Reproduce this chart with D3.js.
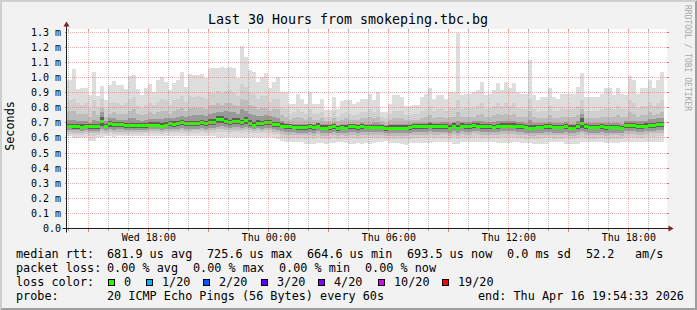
<!DOCTYPE html>
<html><head><meta charset="utf-8">
<script src="https://cdn.jsdelivr.net/npm/d3@7"></script>
<style>
html,body{margin:0;padding:0;background:#f2f2f2;}
svg{display:block;}
text{font-family:"DejaVu Sans Mono",monospace;white-space:pre;}
</style></head><body>
<svg id="c" width="697" height="310"></svg>
<script>
// ---------------- data (values in microseconds) ----------------
const titleText = "Last 30 Hours from smokeping.tbc.bg";
const yAxisTitle = "Seconds";
const watermark = "RRDTOOL / TOBI OETIKER";
const graphStart = new Date(2026,3,15,13,54,33);
const graphEnd   = new Date(2026,3,16,19,54,33);
const firstBin   = new Date(2026,3,15,13,48,0);
const binMinutes = 12;
const yTickValues = [100,200,300,400,500,600,700,800,900,1000,1100,1200,1300,0];
const yTickLabels = ["0.1 m","0.2 m","0.3 m","0.4 m","0.5 m","0.6 m","0.7 m","0.8 m","0.9 m","1.0 m","1.1 m","1.2 m","1.3 m","0.0"];
const yMaxValue = 1325;

const median = [
682,682,678,678,675,682,676,678,676,709, 682,696,691,691,691,687,685,685,685,685,
686,689,689,689,682,689,700,693,696,703, 696,696,698,698,707,696,707,706,726,726,
711,704,711,711,704,718,700,689,700,696, 703,703,691,691,682,676,676,674,672,671,
673,676,671,682,669,669,671,678,665,674, 669,676,676,671,676,674,674,674,674,674,
665,669,669,669,669,669,672,678,678,678, 678,682,676,676,680,680,669,682,669,682,
678,678,687,682,678,678,678,674,678,682, 682,682,682,678,678,674,669,669,674,674,
678,678,674,674,674,678,669,669,678,700, 678,674,674,674,678,671,674,674,674,667,
685,685,685,678,676,682,687,687,691,693];
const pingMax = [
983,983,1056,921,934,934,883,1038,879,943, 850,950,978,950,950,921,1009,1016,921,883,
928,956,905,983,1005,972,917,961,987,1038, 939,1023,1016,1016,1023,994,1060,1060,1060,1071,
1060,1071,1060,994,1208,1138,1049,1038,972,1005, 1027,934,972,1005,905,905,828,828,894,861,
828,905,828,828,857,784,784,868,795,844, 850,850,828,839,857,857,894,850,905,773,
773,828,883,883,872,810,810,817,817,872, 894,934,861,883,883,861,905,905,1296,883,
894,894,905,917,972,883,894,917,961,917, 972,928,961,905,894,894,1115,883,850,872,
872,934,872,861,894,890,894,894,939,1027, 872,868,868,868,894,928,928,883,934,894,
883,1009,983,894,934,928,987,928,983,1038];
const pingHi2 = [
840,850,860,830,820,830,800,850,800,860, 790,830,840,830,820,830,860,870,810,800,
820,830,820,840,860,850,820,850,860,880, 840,880,870,880,870,860,900,900,910,900,
910,920,900,880,960,940,900,890,860,880, 880,840,860,860,800,790,760,770,790,770,
760,790,760,760,770,740,740,780,740,760, 770,760,750,760,770,770,790,770,790,740,
730,760,780,780,780,750,750,760,760,780, 790,810,780,790,790,780,800,800,850,790,
800,800,800,810,830,790,800,810,830,810, 830,810,830,800,790,790,860,790,770,780,
780,810,780,780,790,790,790,790,810,850, 780,780,780,780,790,800,800,790,810,790,
790,850,830,800,810,810,840,810,830,850];
const pingHi3 = [
770,780,780,760,760,760,740,780,750,800, 740,760,770,760,760,760,780,790,760,750,
760,770,760,770,780,780,760,780,790,800, 780,800,800,800,800,790,820,820,830,820,
830,830,820,810,860,850,820,810,790,800, 800,780,790,790,750,740,720,730,740,730,
720,740,720,720,730,710,710,730,710,720, 730,720,720,720,730,730,740,730,740,710,
700,720,730,730,730,720,720,720,720,730, 740,750,730,740,740,730,740,740,770,740,
740,740,740,750,760,740,740,750,760,750, 760,750,760,740,740,740,780,740,730,730,
730,750,730,730,740,740,740,740,750,790, 730,730,730,730,740,740,740,740,750,740,
740,770,760,740,750,750,770,750,760,770];
const pingHi4 = [
720,720,720,710,710,715,700,720,710,770, 710,730,730,720,720,720,730,730,720,715,
720,725,725,725,725,730,735,730,740,745, 740,745,750,750,755,745,760,765,770,775,
780,775,770,760,790,780,760,750,745,745, 750,745,740,735,710,700,695,695,695,695,
690,695,690,700,690,690,690,700,685,695, 690,695,695,690,700,695,695,700,700,690,
685,690,690,690,690,690,695,700,700,700, 700,705,700,700,705,705,700,705,710,705,
705,705,710,710,710,705,705,705,710,710, 710,710,710,705,705,700,720,700,700,700,
700,705,700,700,700,705,695,695,710,760, 700,700,700,700,700,700,700,700,700,695,
710,715,715,710,710,715,725,725,730,730];
const pingHi5 = [
695,695,692,692,690,695,690,692,690,740, 695,710,705,705,705,700,700,700,700,700,
700,705,705,705,700,705,715,710,712,720, 712,712,715,715,722,712,725,725,745,745,
730,722,730,730,722,738,718,705,718,712, 720,720,708,708,698,690,690,688,686,685,
688,690,685,698,683,683,685,692,680,688, 683,690,690,685,690,688,688,688,688,688,
680,683,683,683,683,683,686,692,692,692, 692,696,690,690,694,694,683,696,685,696,
692,692,702,696,692,692,692,688,692,696, 696,696,696,692,692,688,685,683,688,688,
692,692,688,688,688,692,683,683,692,730, 692,688,688,688,692,685,688,688,688,681,
700,700,700,692,690,696,702,702,706,708];
const pingLo5 = [
665,665,662,662,660,665,660,662,660,680, 665,675,672,672,672,668,666,666,666,666,
668,670,670,670,665,670,680,675,678,683, 678,678,680,680,685,678,686,686,700,702,
690,686,690,690,686,695,682,672,682,678, 684,684,672,672,664,658,658,656,654,654,
655,658,653,664,652,652,653,660,648,656, 652,658,658,653,658,656,656,656,656,656,
648,652,652,652,652,652,654,660,660,660, 660,664,658,658,662,662,652,664,650,664,
660,660,668,664,660,660,660,656,660,664, 664,664,664,660,660,656,650,652,656,656,
660,660,656,656,656,660,652,652,660,665, 660,656,656,656,660,654,656,656,656,650,
666,666,666,660,658,664,668,668,672,674];
const pingLo4 = [
652,652,650,650,648,652,645,648,648,660, 652,658,655,656,656,654,652,652,652,652,
654,656,656,656,652,656,662,658,660,664, 660,660,662,662,666,660,666,666,675,676,
670,666,670,670,666,672,664,656,664,660, 665,665,656,655,645,640,640,638,636,636,
636,640,635,645,634,634,636,640,630,636, 634,640,640,635,640,638,638,638,638,638,
630,634,634,634,634,634,636,640,640,640, 640,645,640,640,642,642,634,645,632,645,
640,640,648,645,640,640,640,638,640,645, 645,645,645,640,640,636,632,634,636,636,
640,640,636,636,636,640,634,634,640,648, 640,636,636,636,640,635,636,636,636,632,
646,646,646,640,638,645,648,648,652,654];
const pingLo3 = [
640,640,636,636,634,640,630,634,634,645, 640,645,642,642,642,640,640,640,640,640,
642,644,644,644,640,644,648,645,646,650, 648,648,650,650,652,648,652,652,658,658,
655,652,655,655,652,656,650,644,650,648, 650,650,642,640,628,622,622,620,618,618,
618,622,616,626,616,616,618,622,612,618, 616,622,622,616,622,620,620,620,620,620,
612,616,616,616,616,616,618,622,622,622, 622,626,622,622,624,624,616,626,614,626,
622,622,630,626,622,622,622,620,622,626, 626,626,626,622,622,618,614,616,618,618,
622,622,618,618,618,622,616,616,622,630, 622,618,618,618,622,616,618,618,618,614,
628,628,628,622,620,626,630,630,634,636];
const pingLo2 = [
625,625,620,620,618,625,610,615,618,628, 628,630,628,628,628,628,626,628,628,628,
630,630,630,630,628,630,634,632,634,636, 634,634,636,636,638,634,636,636,640,640,
638,636,638,638,636,640,634,630,634,632, 634,634,628,624,608,600,600,598,598,598,
596,600,594,604,594,594,596,600,590,596, 594,600,600,594,600,598,598,598,600,600,
594,596,596,596,594,590,596,600,600,600, 600,604,600,600,602,602,596,604,594,604,
600,600,608,604,600,600,600,598,600,604, 604,604,604,600,600,596,592,594,596,596,
600,600,596,596,596,600,594,594,600,606, 600,596,596,596,600,594,596,596,596,592,
606,606,606,600,598,604,608,608,612,614];
const pingMin = [
612,612,600,600,604,606,579,579,603,605, 612,612,608,610,612,612,610,612,614,612,
614,612,612,612,614,612,612,612,614,612, 614,614,614,612,612,614,612,612,608,606,
606,604,606,606,606,606,606,606,604,604, 604,604,600,596,580,574,574,572,574,572,
563,563,563,566,568,563,566,568,574,570, 566,563,563,568,563,566,563,566,574,574,
580,566,566,566,560,551,566,566,566,566, 566,566,570,570,570,570,570,560,563,570,
570,572,570,574,574,574,574,570,566,566, 566,566,572,574,566,566,566,563,563,563,
563,572,572,572,572,563,563,563,563,574, 574,574,574,574,574,566,566,566,566,574,
574,574,572,572,572,572,572,572,572,572];

const legendLine1 = [["median rtt:",16],["681.9 us avg",107],["725.6 us max",207],["664.6 us min",307],["693.5 us now",407],["0.0 ms sd",507],["52.2",586],["am/s",635]];
const legendLine2 = [["packet loss:",16],["0.00 % avg",107],["0.00 % max",193],["0.00 % min",279],["0.00 % now",365]];
const lossLabels = ["0","1/20","2/20","3/20","4/20","10/20","19/20"];
const lossColors = ["#26ff00","#00b8ff","#0059ff","#5e00ff","#7e00ff","#dd00ff","#ff0000"];
const lossBoxX = [108,146,203,261,318,378,442];
const probeText = "20 ICMP Echo Pings (56 Bytes) every 60s";
const endText = "end: Thu Apr 16 19:54:33 2026";

// ---------------- drawing ----------------
const W=697,H=310;
const X0=66.5, X1=666.5, Y0=228.5, Y1=28.5;
const svg = d3.select("#c");
const x = d3.scaleTime().domain([graphStart,graphEnd]).range([X0,X1]);
const y = d3.scaleLinear().domain([0,yMaxValue]).range([Y0,Y1]);
const snap = v => Math.round(v-0.5)+0.5;

// background + bevel
svg.append("rect").attr("width",W).attr("height",H).attr("fill","#f2f2f2");
svg.append("path").attr("d",`M0,0 L${W},0 L${W-2},2 L2,2 L2,${H-2} L0,${H} Z`).attr("fill","#cfcfcf");
svg.append("path").attr("d",`M${W},0 L${W},${H} L0,${H} L2,${H-2} L${W-2},${H-2} L${W-2},2 Z`).attr("fill","#9e9e9e");
// canvas
svg.append("rect").attr("x",67).attr("y",29).attr("width",600).attr("height",200).attr("fill","#ffffff");

const n = median.length;
const bins = d3.range(n).map(i=>{
  const t0 = d3.timeMinute.offset(firstBin, i*binMinutes);
  const t1 = d3.timeMinute.offset(firstBin, (i+1)*binMinutes);
  return {i,t0,t1};
});
const bx0 = b => Math.max(67, Math.round(x(b.t0)));
const bx1 = b => Math.min(667, Math.round(x(b.t1)));

const bands = [
  [pingMin,pingMax,"#dddddd"],
  [pingLo2,pingHi2,"#d0d0d0"],
  [pingLo3,pingHi3,"#bcbcbc"],
  [pingLo4,pingHi4,"#999999"],
  [pingLo5,pingHi5,"#5e5e5e"]
];
const gSmoke = svg.append("g").attr("shape-rendering","crispEdges");
bands.forEach(([lo,hi,col])=>{
  gSmoke.append("g").selectAll("rect").data(bins).join("rect")
    .attr("x",bx0).attr("width",b=>bx1(b)-bx0(b))
    .attr("y",b=>Math.round(y(hi[b.i])))
    .attr("height",b=>Math.max(0,Math.round(y(lo[b.i]))-Math.round(y(hi[b.i]))))
    .attr("fill",col);
});
// median
gSmoke.append("g").selectAll("rect").data(bins).join("rect")
  .attr("x",bx0).attr("width",b=>bx1(b)-bx0(b))
  .attr("y",b=>Math.round(y(median[b.i]))-1)
  .attr("height",3).attr("fill",lossColors[0]);

// grid
const gGrid = svg.append("g").attr("shape-rendering","crispEdges");
const gridCol="rgba(130,130,130,0.5)", mgridCol="rgba(222,79,79,0.45)";
const hours = d3.timeHour.range(graphStart, graphEnd);
hours.forEach(h=>{
  const major = h.getHours()%3===0;
  const xx = snap(x(h));
  gGrid.append("line").attr("x1",xx).attr("x2",xx).attr("y1",Y0-1).attr("y2",Y1+1)
    .attr("stroke",major?mgridCol:gridCol).attr("stroke-width",1).attr("stroke-dasharray","1,1");
  gGrid.append("line").attr("x1",xx).attr("x2",xx).attr("y1",Y0).attr("y2",Y0+(major?3:2))
    .attr("stroke",major?"rgba(222,79,79,0.7)":"rgba(143,143,143,0.8)");
  gGrid.append("line").attr("x1",xx).attr("x2",xx).attr("y1",Y1).attr("y2",Y1+2)
    .attr("stroke",major?"rgba(222,79,79,0.7)":"rgba(143,143,143,0.8)");
});
yTickValues.forEach(v=>{
  if(v===0) return;
  const yy = snap(y(v));
  gGrid.append("line").attr("x1",X0+1).attr("x2",X1).attr("y1",yy).attr("y2",yy)
    .attr("stroke",mgridCol).attr("stroke-dasharray","1,1");
  gGrid.append("line").attr("x1",X0-2).attr("x2",X0).attr("y1",yy).attr("y2",yy)
    .attr("stroke","rgba(222,79,79,0.8)");
  gGrid.append("line").attr("x1",X1).attr("x2",X1+2).attr("y1",yy).attr("y2",yy)
    .attr("stroke","rgba(222,79,79,0.8)");
});

// axes
const axisCol="#1f1f1f", arrowCol="#801f1f";
svg.append("line").attr("x1",X0-4).attr("x2",X1+4).attr("y1",Y0).attr("y2",Y0).attr("stroke",axisCol);
svg.append("line").attr("x1",X0).attr("x2",X0).attr("y1",Y0+4).attr("y2",Y1-4).attr("stroke",axisCol);
svg.append("path").attr("d",`M${X1+2},${Y0-3} L${X1+2},${Y0+3} L${X1+7},${Y0} Z`).attr("fill",arrowCol);
svg.append("path").attr("d",`M${X0-3},${Y1-2} L${X0+3},${Y1-2} L${X0},${Y1-7} Z`).attr("fill",arrowCol);

// y labels
svg.append("g").selectAll("text").data(yTickValues).join("text")
  .attr("x",61).attr("y",v=>snap(y(v))+3.6)
  .attr("text-anchor","end").attr("font-size","10px").attr("fill","#000")
  .text((v,i)=>yTickLabels[i]);
// x labels every 6 hours
const labelHours = hours.filter(h=>h.getHours()%6===0);
const fmt = d3.timeFormat("%a %H:%M");
svg.append("g").selectAll("text").data(labelHours).join("text")
  .attr("x",h=>x(h)+0.5).attr("y",241).attr("text-anchor","middle")
  .attr("font-size","10px").attr("fill","#000").text(fmt);

// title, y title, watermark
svg.append("text").attr("x",348).attr("y",24).attr("text-anchor","middle")
  .attr("font-size","13.3px").attr("fill","#000").text(titleText);
svg.append("text").attr("transform","translate(14,126) rotate(-90)").attr("text-anchor","middle")
  .attr("font-size","11.8px").attr("fill","#000").text(yAxisTitle);
svg.append("text").attr("transform","translate(685,5) rotate(90)").attr("text-anchor","start")
  .attr("font-size","8px").attr("fill","#a8a8a8").text(watermark);

// legend
const fs="11.8px";
const gL = svg.append("g").attr("font-size",fs).attr("fill","#000");
gL.selectAll("text.l1").data(legendLine1).join("text").attr("class","l1")
  .attr("x",d=>d[1]).attr("y",258).text(d=>d[0]);
gL.selectAll("text.l2").data(legendLine2).join("text").attr("class","l2")
  .attr("x",d=>d[1]).attr("y",272).text(d=>d[0]);
gL.append("text").attr("x",16).attr("y",286).text("loss color:");
lossLabels.forEach((lab,i)=>{
  gL.append("rect").attr("x",lossBoxX[i]+0.5).attr("y",279.5).attr("width",6).attr("height",6)
    .attr("fill",lossColors[i]).attr("stroke","#000").attr("stroke-width",1);
  gL.append("text").attr("x",lossBoxX[i]+16).attr("y",286).text(lab);
});
gL.append("text").attr("x",16).attr("y",300).text("probe:");
gL.append("text").attr("x",107).attr("y",300).text(probeText);
gL.append("text").attr("x",478).attr("y",300).text(endText);
</script>
</body></html>
